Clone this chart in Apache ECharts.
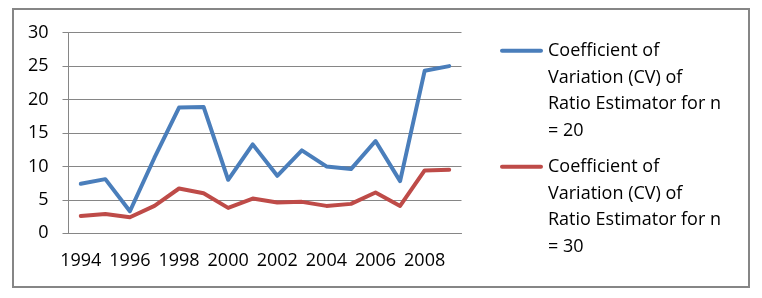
<!DOCTYPE html>
<html>
<head>
<meta charset="utf-8">
<script src="https://cdn.jsdelivr.net/npm/echarts@6/dist/echarts.min.js"></script>
<style>
  html, body { margin: 0; padding: 0; background: #fff; }
  #chart { width: 762px; height: 298px; }
</style>
</head>
<body>
<div id="chart"></div>
<script>
// years on the x axis
const years = ["1994", "1995", "1996", "1997", "1998", "1999", "2000", "2001",
  "2002", "2003", "2004", "2005", "2006", "2007", "2008", "2009"];

// CV for n = 20 (blue) and n = 30 (red)
const cvN20 = [7.4, 8.1, 3.3, 11.3, 18.8, 18.9, 8.0, 13.3, 8.6, 12.4, 10.0, 9.6, 13.8, 7.8, 24.3, 25.0];
const cvN30 = [2.6, 2.9, 2.4, 4.1, 6.7, 6.0, 3.8, 5.2, 4.6, 4.7, 4.1, 4.4, 6.1, 4.1, 9.4, 9.5];

const seriesNames = [
  "Coefficient of Variation (CV) of Ratio Estimator for n = 20",
  "Coefficient of Variation (CV) of Ratio Estimator for n = 30"
];
// how the legend text is broken over lines
const legendLines = [
  ["Coefficient of", "Variation (CV) of", "Ratio Estimator for n", "= 20"],
  ["Coefficient of", "Variation (CV) of", "Ratio Estimator for n", "= 30"]
];

const font = "Open Sans";
const gray = "#868686";
const lineH = 26.7;
const boxH = 107;
// icon = short bar on the first text line; zero-length moves keep the box 43 x 107
const legendIcon = "path://M0,0L0,0M2,11.4H41A2,2,0,0,1,41,15.4H2A2,2,0,0,1,2,11.4ZM0,107L0,107";

const chart = echarts.init(document.getElementById("chart"));

const makeLegend = (i, firstLineY) => ({
  data: [{ name: seriesNames[i], icon: legendIcon }],
  orient: "vertical",
  left: 500,
  top: firstLineY - (boxH / 2 - lineH * 4 / 2 + lineH / 2),
  itemWidth: 43,
  itemHeight: boxH,
  itemGap: 0,
  padding: 0,
  formatter: () => legendLines[i].join("\n"),
  textStyle: {
    fontFamily: font,
    fontSize: 18,
    color: "#000",
    lineHeight: lineH
  }
});

const option = {
  animation: false,
  color: ["#4A7EBB", "#BE4B48"],
  grid: { left: 68.5, right: 300.5, top: 32.7, bottom: 64.7 },
  legend: [makeLegend(0, 50.7), makeLegend(1, 166.7)],
  xAxis: {
    type: "category",
    data: years,
    axisLine: { lineStyle: { color: gray, width: 1 } },
    axisTick: { interval: 0, length: 6, lineStyle: { color: gray } },
    axisLabel: {
      interval: 1,
      margin: 19,
      fontFamily: font,
      fontSize: 18,
      color: "#000"
    }
  },
  yAxis: {
    type: "value",
    min: 0,
    max: 30,
    interval: 5,
    axisLine: { show: true, lineStyle: { color: gray, width: 1 } },
    axisTick: { show: true, length: 6, lineStyle: { color: gray } },
    splitLine: { lineStyle: { color: gray, width: 1 } },
    axisLabel: {
      margin: 20,
      fontFamily: font,
      fontSize: 18,
      color: "#000"
    }
  },
  series: [
    {
      name: seriesNames[0],
      type: "line",
      data: cvN20,
      symbol: "none",
      lineStyle: { width: 4, cap: "round", join: "round" }
    },
    {
      name: seriesNames[1],
      type: "line",
      data: cvN30,
      symbol: "none",
      lineStyle: { width: 4, cap: "round", join: "round" }
    }
  ],
  graphic: [
    {
      type: "rect",
      shape: { x: 13, y: 9, width: 736, height: 278 },
      style: { fill: null, stroke: gray, lineWidth: 2 },
      silent: true
    }
  ]
};

chart.setOption(option);
</script>
</body>
</html>
